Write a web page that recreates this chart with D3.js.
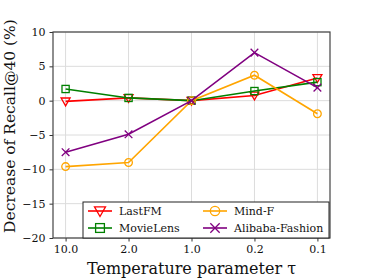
<!DOCTYPE html>
<html>
<head>
<meta charset="utf-8">
<script src="https://cdn.jsdelivr.net/npm/d3@7"></script>
<style>
  body { margin: 0; background: #fff; }
  text { font-family: "DejaVu Serif", serif; }
</style>
</head>
<body>
<div id="chart"></div>
<script>
// data
const temps = ["10.0", "2.0", "1.0", "0.2", "0.1"];
const lastfm = [-0.1, 0.4, 0.0, 0.75, 3.3];
const movielens = [1.7, 0.4, 0.0, 1.4, 2.7];
const mindf = [-9.6, -9.0, 0.0, 3.7, -1.9];
const alibaba = [-7.5, -4.9, 0.0, 7.0, 1.9];
const yTicks = [10, 5, 0, -5, -10, -15, -20];

const series = [
  {name: "LastFM", values: lastfm, color: "red", marker: "tri"},
  {name: "MovieLens", values: movielens, color: "green", marker: "sq"},
  {name: "Mind-F", values: mindf, color: "orange", marker: "circ"},
  {name: "Alibaba-Fashion", values: alibaba, color: "purple", marker: "x"}
];

let dim = {width: 366, height: 279};
let m = {left: 53, right: 36, top: 32, bottom: 41};

let svg = d3.select('#chart').append('svg')
  .attr('width', dim.width).attr('height', dim.height);

let x = d3.scalePoint().domain(temps).range([m.left, dim.width - m.right]).padding(0.2);
let y = d3.scaleLinear().domain([-20, 10]).range([dim.height - m.bottom, m.top]);

// grid
let grid = svg.append('g');
grid.selectAll('line.gx').data(temps).join('line')
  .attr('x1', d => x(d)).attr('x2', d => x(d))
  .attr('y1', m.top).attr('y2', dim.height - m.bottom)
  .attr('stroke', '#dcdcdc').attr('stroke-width', 1);
grid.selectAll('line.gy').data(yTicks).join('line')
  .attr('y1', d => y(d)).attr('y2', d => y(d))
  .attr('x1', m.left).attr('x2', dim.width - m.right)
  .attr('stroke', '#dcdcdc').attr('stroke-width', 1);

// axes
let xAxis = svg.append('g')
  .attr('transform', `translate(0,${dim.height - m.bottom})`)
  .call(d3.axisBottom(x).tickSize(3.5).tickPadding(4));
let yAxis = svg.append('g')
  .attr('transform', `translate(${m.left},0)`)
  .call(d3.axisLeft(y).tickValues(yTicks).tickSize(3.5).tickPadding(4)
    .tickFormat(d => d < 0 ? "\u2212" + Math.abs(d) : d));
[xAxis, yAxis].forEach(a => {
  a.select('.domain').remove();
  a.selectAll('.tick line').attr('stroke', '#333');
  a.selectAll('.tick text').attr('font-size', 11).attr('fill', '#111')
    .style('font-family', '"DejaVu Serif", serif');
});

// frame
svg.append('rect')
  .attr('x', m.left).attr('y', m.top)
  .attr('width', dim.width - m.left - m.right)
  .attr('height', dim.height - m.top - m.bottom)
  .attr('fill', 'none').attr('stroke', '#444').attr('stroke-width', 1.2);

function drawMarker(sel, type, color, s) {
  if (type === "tri") {
    sel.append('path').attr('d', `M${-s},${-s*0.75} L${s},${-s*0.75} L0,${s} Z`)
      .attr('fill', 'none').attr('stroke', color).attr('stroke-width', 1.3);
  } else if (type === "sq") {
    sel.append('rect').attr('x', -s*0.8).attr('y', -s*0.8).attr('width', s*1.6).attr('height', s*1.6)
      .attr('fill', 'none').attr('stroke', color).attr('stroke-width', 1.3);
  } else if (type === "circ") {
    sel.append('circle').attr('r', s*0.85)
      .attr('fill', 'none').attr('stroke', color).attr('stroke-width', 1.3);
  } else {
    sel.append('path').attr('d', `M${-s*0.85},${-s*0.85} L${s*0.85},${s*0.85} M${-s*0.85},${s*0.85} L${s*0.85},${-s*0.85}`)
      .attr('fill', 'none').attr('stroke', color).attr('stroke-width', 1.3);
  }
}

let line = d3.line().x((d, i) => x(temps[i])).y(d => y(d));
series.forEach(s => {
  svg.append('path').datum(s.values)
    .attr('d', line).attr('fill', 'none')
    .attr('stroke', s.color).attr('stroke-width', 1.6);
  s.values.forEach((v, i) => {
    let g = svg.append('g').attr('transform', `translate(${x(temps[i])},${y(v)})`);
    drawMarker(g, s.marker, s.color, 4.5);
  });
});

// legend
let leg = svg.append('g');
leg.append('rect')
  .attr('x', 83).attr('y', 202).attr('width', 246).attr('height', 36)
  .attr('fill', 'white').attr('stroke', '#222').attr('stroke-width', 1);
series.forEach((s, i) => {
  let col = Math.floor(i / 2), row = i % 2;
  let lx = 88 + col * 115, ly = 211 + row * 17;
  let g = leg.append('g');
  g.append('line').attr('x1', lx).attr('x2', lx + 24).attr('y1', ly).attr('y2', ly)
    .attr('stroke', s.color).attr('stroke-width', 1.6);
  let mk = g.append('g').attr('transform', `translate(${lx + 12},${ly})`);
  drawMarker(mk, s.marker, s.color, 5.5);
  g.append('text').attr('x', lx + 31).attr('y', ly + 4)
    .attr('font-size', 11).attr('fill', '#111').text(s.name);
});

// axis titles
svg.append('text')
  .attr('x', (m.left + dim.width - m.right) / 2).attr('y', 274)
  .attr('text-anchor', 'middle').attr('font-size', 16).attr('fill', '#111')
  .text("Temperature parameter \u03c4");
svg.append('text')
  .attr('transform', `translate(15,${(m.top + dim.height - m.bottom) / 2 - 9}) rotate(-90)`)
  .attr('text-anchor', 'middle').attr('font-size', 15.5).attr('fill', '#111')
  .text("Decrease of Recall@40 (%)");
</script>
</body>
</html>
